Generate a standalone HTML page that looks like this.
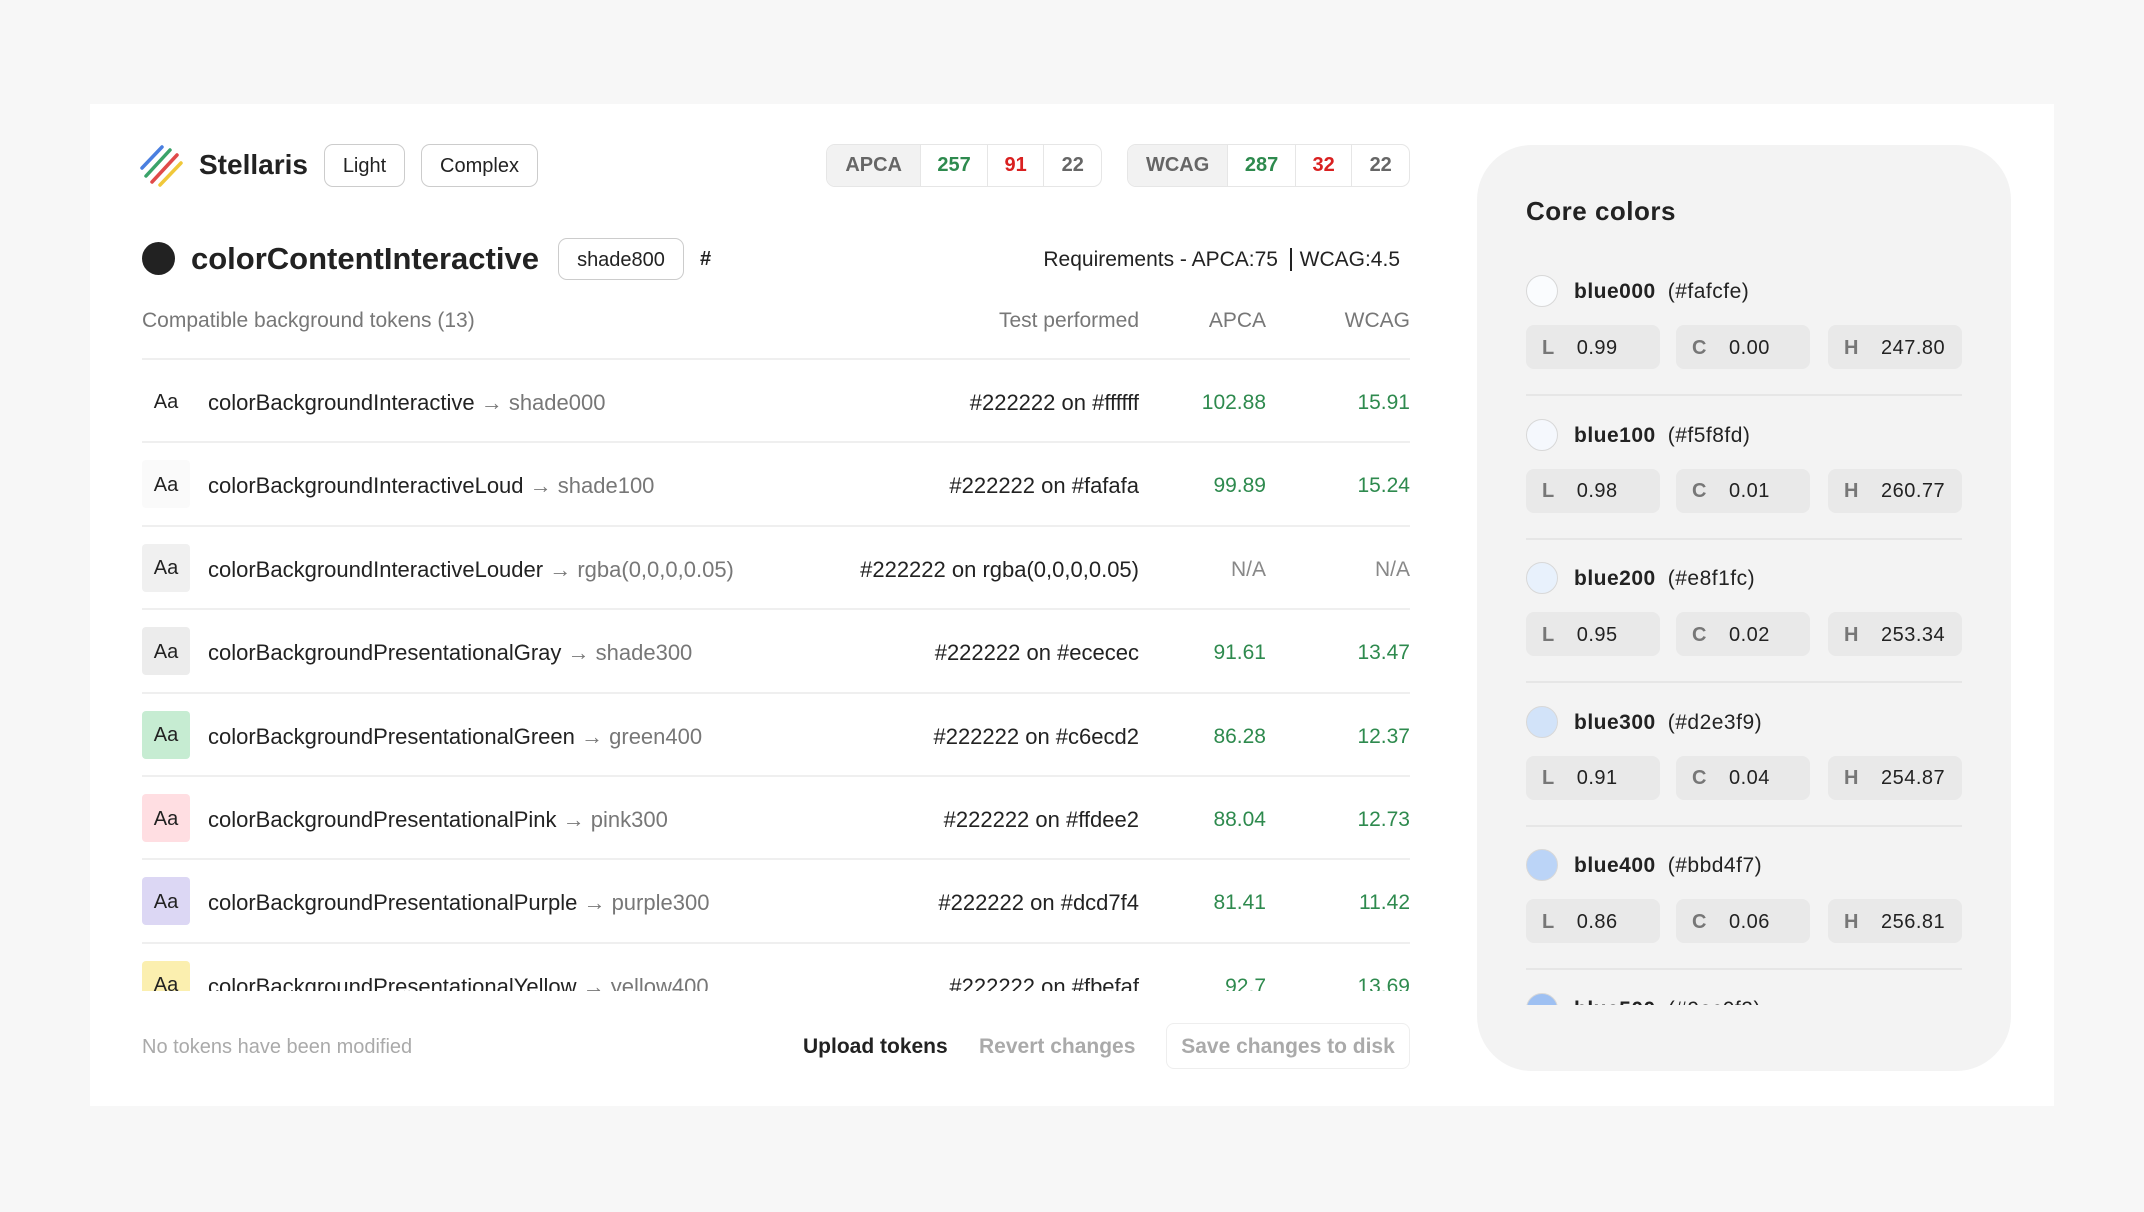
<!DOCTYPE html>
<html><head><meta charset="utf-8"><style>
*{margin:0;padding:0;box-sizing:border-box}
body{width:2144px;height:1212px;background:#f7f7f7;font-family:"Liberation Sans",sans-serif;color:#222;position:relative;overflow:hidden}
.a{position:absolute;white-space:nowrap}
.card{position:absolute;left:90px;top:104px;width:1964px;height:1002px;background:#fff}
.btn{position:absolute;border:1.5px solid #ccc;border-radius:9px;font-size:20px;display:flex;align-items:center;justify-content:center;background:#fff}
.grp{position:absolute;display:flex;border:1.5px solid #e6e6e6;border-radius:9px;overflow:hidden;height:43px;top:144px;font-size:20px;font-weight:bold}
.grp div{display:flex;align-items:center;justify-content:center;border-left:1.5px solid #e6e6e6}
.grp div:first-child{background:#f2f2f2;color:#666;border-left:none}
.g{color:#2e8a4e}.r{color:#d92020}.n{color:#666}
.hdr{top:309px;font-size:21px;color:#777}
.row{position:absolute;left:142px;width:1268px;height:83.4px;border-top:2px solid #efefef}
.aa{position:absolute;left:0;top:17px;width:48px;height:48px;border-radius:4px;display:flex;align-items:center;justify-content:center;font-size:20px;padding-top:2px}
.tn{position:absolute;left:66px;top:30px;font-size:22px;line-height:26px;white-space:nowrap}
.tn span{color:#777}
.tp{position:absolute;right:271px;top:30px;font-size:22px;line-height:26px;white-space:nowrap}
.ap{position:absolute;right:144px;top:30px;font-size:21px;line-height:26px;color:#2e8a4e}
.wc{position:absolute;right:0;top:30px;font-size:21px;line-height:26px;color:#2e8a4e}
.panel{position:absolute;left:1477px;top:145px;width:534px;height:926px;background:#f3f3f3;border-radius:55px}
.item{position:absolute;left:49px;width:436px;height:143.6px}
.dot{position:absolute;left:0;top:-16px;width:32px;height:32px;border-radius:50%;border:1.5px solid #d8d8d8}
.nm{position:absolute;left:48px;top:-11px;font-size:21px;font-weight:bold;white-space:nowrap;letter-spacing:0.5px}
.nm span{font-weight:normal;margin-left:12px}
.chip{position:absolute;top:34px;height:44px;width:134px;background:#e9e9e9;border-radius:8px;font-size:20px;display:flex;align-items:center;padding-left:16px;letter-spacing:0.5px;padding-top:2px}
.chip b{color:#777;margin-right:22px}
.sep{position:absolute;left:0;top:103px;width:436px;height:2px;background:#e6e6e6}
</style></head><body>
<div class="card"></div>
<svg class="a" style="left:140px;top:144px" width="44" height="44" viewBox="0 0 44 44">
<line x1="2" y1="24" x2="22" y2="3" stroke="#4a7fe0" stroke-width="3.5" stroke-linecap="round"/>
<line x1="6" y1="32" x2="30" y2="6" stroke="#3aa36a" stroke-width="3.5" stroke-linecap="round"/>
<line x1="12" y1="38" x2="37" y2="11" stroke="#e04a4a" stroke-width="3.5" stroke-linecap="round"/>
<line x1="20" y1="41" x2="41" y2="19" stroke="#f0c83a" stroke-width="3.5" stroke-linecap="round"/>
</svg>
<div class="a" style="left:199px;top:149px;font-size:28px;font-weight:bold">Stellaris</div>
<div class="btn" style="left:324px;top:144px;width:81px;height:43px;padding-top:2px">Light</div>
<div class="btn" style="left:421px;top:144px;width:117px;height:43px;padding-top:2px">Complex</div>
<div class="grp" style="left:826px;width:276px"><div style="width:94px">APCA</div><div class="g" style="width:67px">257</div><div class="r" style="width:57px">91</div><div class="n" style="width:58px">22</div></div>
<div class="grp" style="left:1127px;width:283px"><div style="width:100px">WCAG</div><div class="g" style="width:68px">287</div><div class="r" style="width:57px">32</div><div class="n" style="width:58px">22</div></div>
<div class="a" style="left:142px;top:242px;width:33px;height:33px;border-radius:50%;background:#222"></div>
<div class="a" style="left:191px;top:241px;font-size:31px;font-weight:bold">colorContentInteractive</div>
<div class="btn" style="left:558px;top:238px;width:126px;height:42px;padding-top:2px">shade800</div>
<div class="a" style="left:700px;top:248px;font-size:20px;font-weight:bold">#</div>
<div class="a" style="right:744px;top:248px;font-size:21px">Requirements - APCA:75 &nbsp;<span style="border-left:2px solid #222;padding-left:8px">WCAG:4.5</span></div>
<div class="a hdr" style="left:142px">Compatible background tokens (13)</div>
<div class="a hdr" style="right:1005px">Test performed</div>
<div class="a hdr" style="right:878px">APCA</div>
<div class="a hdr" style="right:734px">WCAG</div>
<div class="a" style="left:0;top:358px;width:2144px;height:633px;overflow:hidden">
<div class="row" style="top:0"><div class="aa" style="background:#fff">Aa</div><div class="tn">colorBackgroundInteractive <span>→ shade000</span></div><div class="tp">#222222 on #ffffff</div><div class="ap">102.88</div><div class="wc">15.91</div></div>
<div class="row" style="top:83.4px"><div class="aa" style="background:#fafafa">Aa</div><div class="tn">colorBackgroundInteractiveLoud <span>→ shade100</span></div><div class="tp">#222222 on #fafafa</div><div class="ap">99.89</div><div class="wc">15.24</div></div>
<div class="row" style="top:166.8px"><div class="aa" style="background:#f0f0f0">Aa</div><div class="tn">colorBackgroundInteractiveLouder <span>→ rgba(0,0,0,0.05)</span></div><div class="tp">#222222 on rgba(0,0,0,0.05)</div><div class="ap" style="color:#888">N/A</div><div class="wc" style="color:#888">N/A</div></div>
<div class="row" style="top:250.2px"><div class="aa" style="background:#ececec">Aa</div><div class="tn">colorBackgroundPresentationalGray <span>→ shade300</span></div><div class="tp">#222222 on #ececec</div><div class="ap">91.61</div><div class="wc">13.47</div></div>
<div class="row" style="top:333.6px"><div class="aa" style="background:#c6ecd2">Aa</div><div class="tn">colorBackgroundPresentationalGreen <span>→ green400</span></div><div class="tp">#222222 on #c6ecd2</div><div class="ap">86.28</div><div class="wc">12.37</div></div>
<div class="row" style="top:417px"><div class="aa" style="background:#ffdee2">Aa</div><div class="tn">colorBackgroundPresentationalPink <span>→ pink300</span></div><div class="tp">#222222 on #ffdee2</div><div class="ap">88.04</div><div class="wc">12.73</div></div>
<div class="row" style="top:500.4px"><div class="aa" style="background:#dcd7f4">Aa</div><div class="tn">colorBackgroundPresentationalPurple <span>→ purple300</span></div><div class="tp">#222222 on #dcd7f4</div><div class="ap">81.41</div><div class="wc">11.42</div></div>
<div class="row" style="top:583.8px"><div class="aa" style="background:#fbefaf">Aa</div><div class="tn">colorBackgroundPresentationalYellow <span>→ yellow400</span></div><div class="tp">#222222 on #fbefaf</div><div class="ap">92.7</div><div class="wc">13.69</div></div>
</div>
<div class="a" style="left:142px;top:1036px;font-size:20px;color:#aaa">No tokens have been modified</div>
<div class="a" style="left:803px;top:1035px;font-size:21px;font-weight:bold">Upload tokens</div>
<div class="a" style="left:979px;top:1035px;font-size:21px;font-weight:bold;color:#aaa">Revert changes</div>
<div class="a" style="left:1166px;top:1023px;width:244px;height:46px;border:1.5px solid #eee;border-radius:8px;font-size:21px;font-weight:bold;color:#aaa;display:flex;align-items:center;justify-content:center;padding-top:2px">Save changes to disk</div>
<div class="panel">
<div class="a" style="left:49px;top:51px;font-size:26px;font-weight:bold;letter-spacing:0.5px">Core colors</div>
<div class="a" style="left:0;top:0;width:534px;height:860px;overflow:hidden">
<div class="item" style="top:146px"><div class="dot" style="background:#fafcfe"></div><div class="nm">blue000<span>(#fafcfe)</span></div><div class="chip" style="left:0"><b>L</b>0.99</div><div class="chip" style="left:150px"><b>C</b>0.00</div><div class="chip" style="left:302px"><b>H</b>247.80</div><div class="sep"></div></div>
<div class="item" style="top:289.6px"><div class="dot" style="background:#f5f8fd"></div><div class="nm">blue100<span>(#f5f8fd)</span></div><div class="chip" style="left:0"><b>L</b>0.98</div><div class="chip" style="left:150px"><b>C</b>0.01</div><div class="chip" style="left:302px"><b>H</b>260.77</div><div class="sep"></div></div>
<div class="item" style="top:433.2px"><div class="dot" style="background:#e8f1fc"></div><div class="nm">blue200<span>(#e8f1fc)</span></div><div class="chip" style="left:0"><b>L</b>0.95</div><div class="chip" style="left:150px"><b>C</b>0.02</div><div class="chip" style="left:302px"><b>H</b>253.34</div><div class="sep"></div></div>
<div class="item" style="top:576.8px"><div class="dot" style="background:#d2e3f9"></div><div class="nm">blue300<span>(#d2e3f9)</span></div><div class="chip" style="left:0"><b>L</b>0.91</div><div class="chip" style="left:150px"><b>C</b>0.04</div><div class="chip" style="left:302px"><b>H</b>254.87</div><div class="sep"></div></div>
<div class="item" style="top:720.4px"><div class="dot" style="background:#bbd4f7"></div><div class="nm">blue400<span>(#bbd4f7)</span></div><div class="chip" style="left:0"><b>L</b>0.86</div><div class="chip" style="left:150px"><b>C</b>0.06</div><div class="chip" style="left:302px"><b>H</b>256.81</div><div class="sep"></div></div>
<div class="item" style="top:864px"><div class="dot" style="background:#9ec0f2"></div><div class="nm">blue500<span>(#9ec0f2)</span></div></div>
</div>
</div>
</body></html>
